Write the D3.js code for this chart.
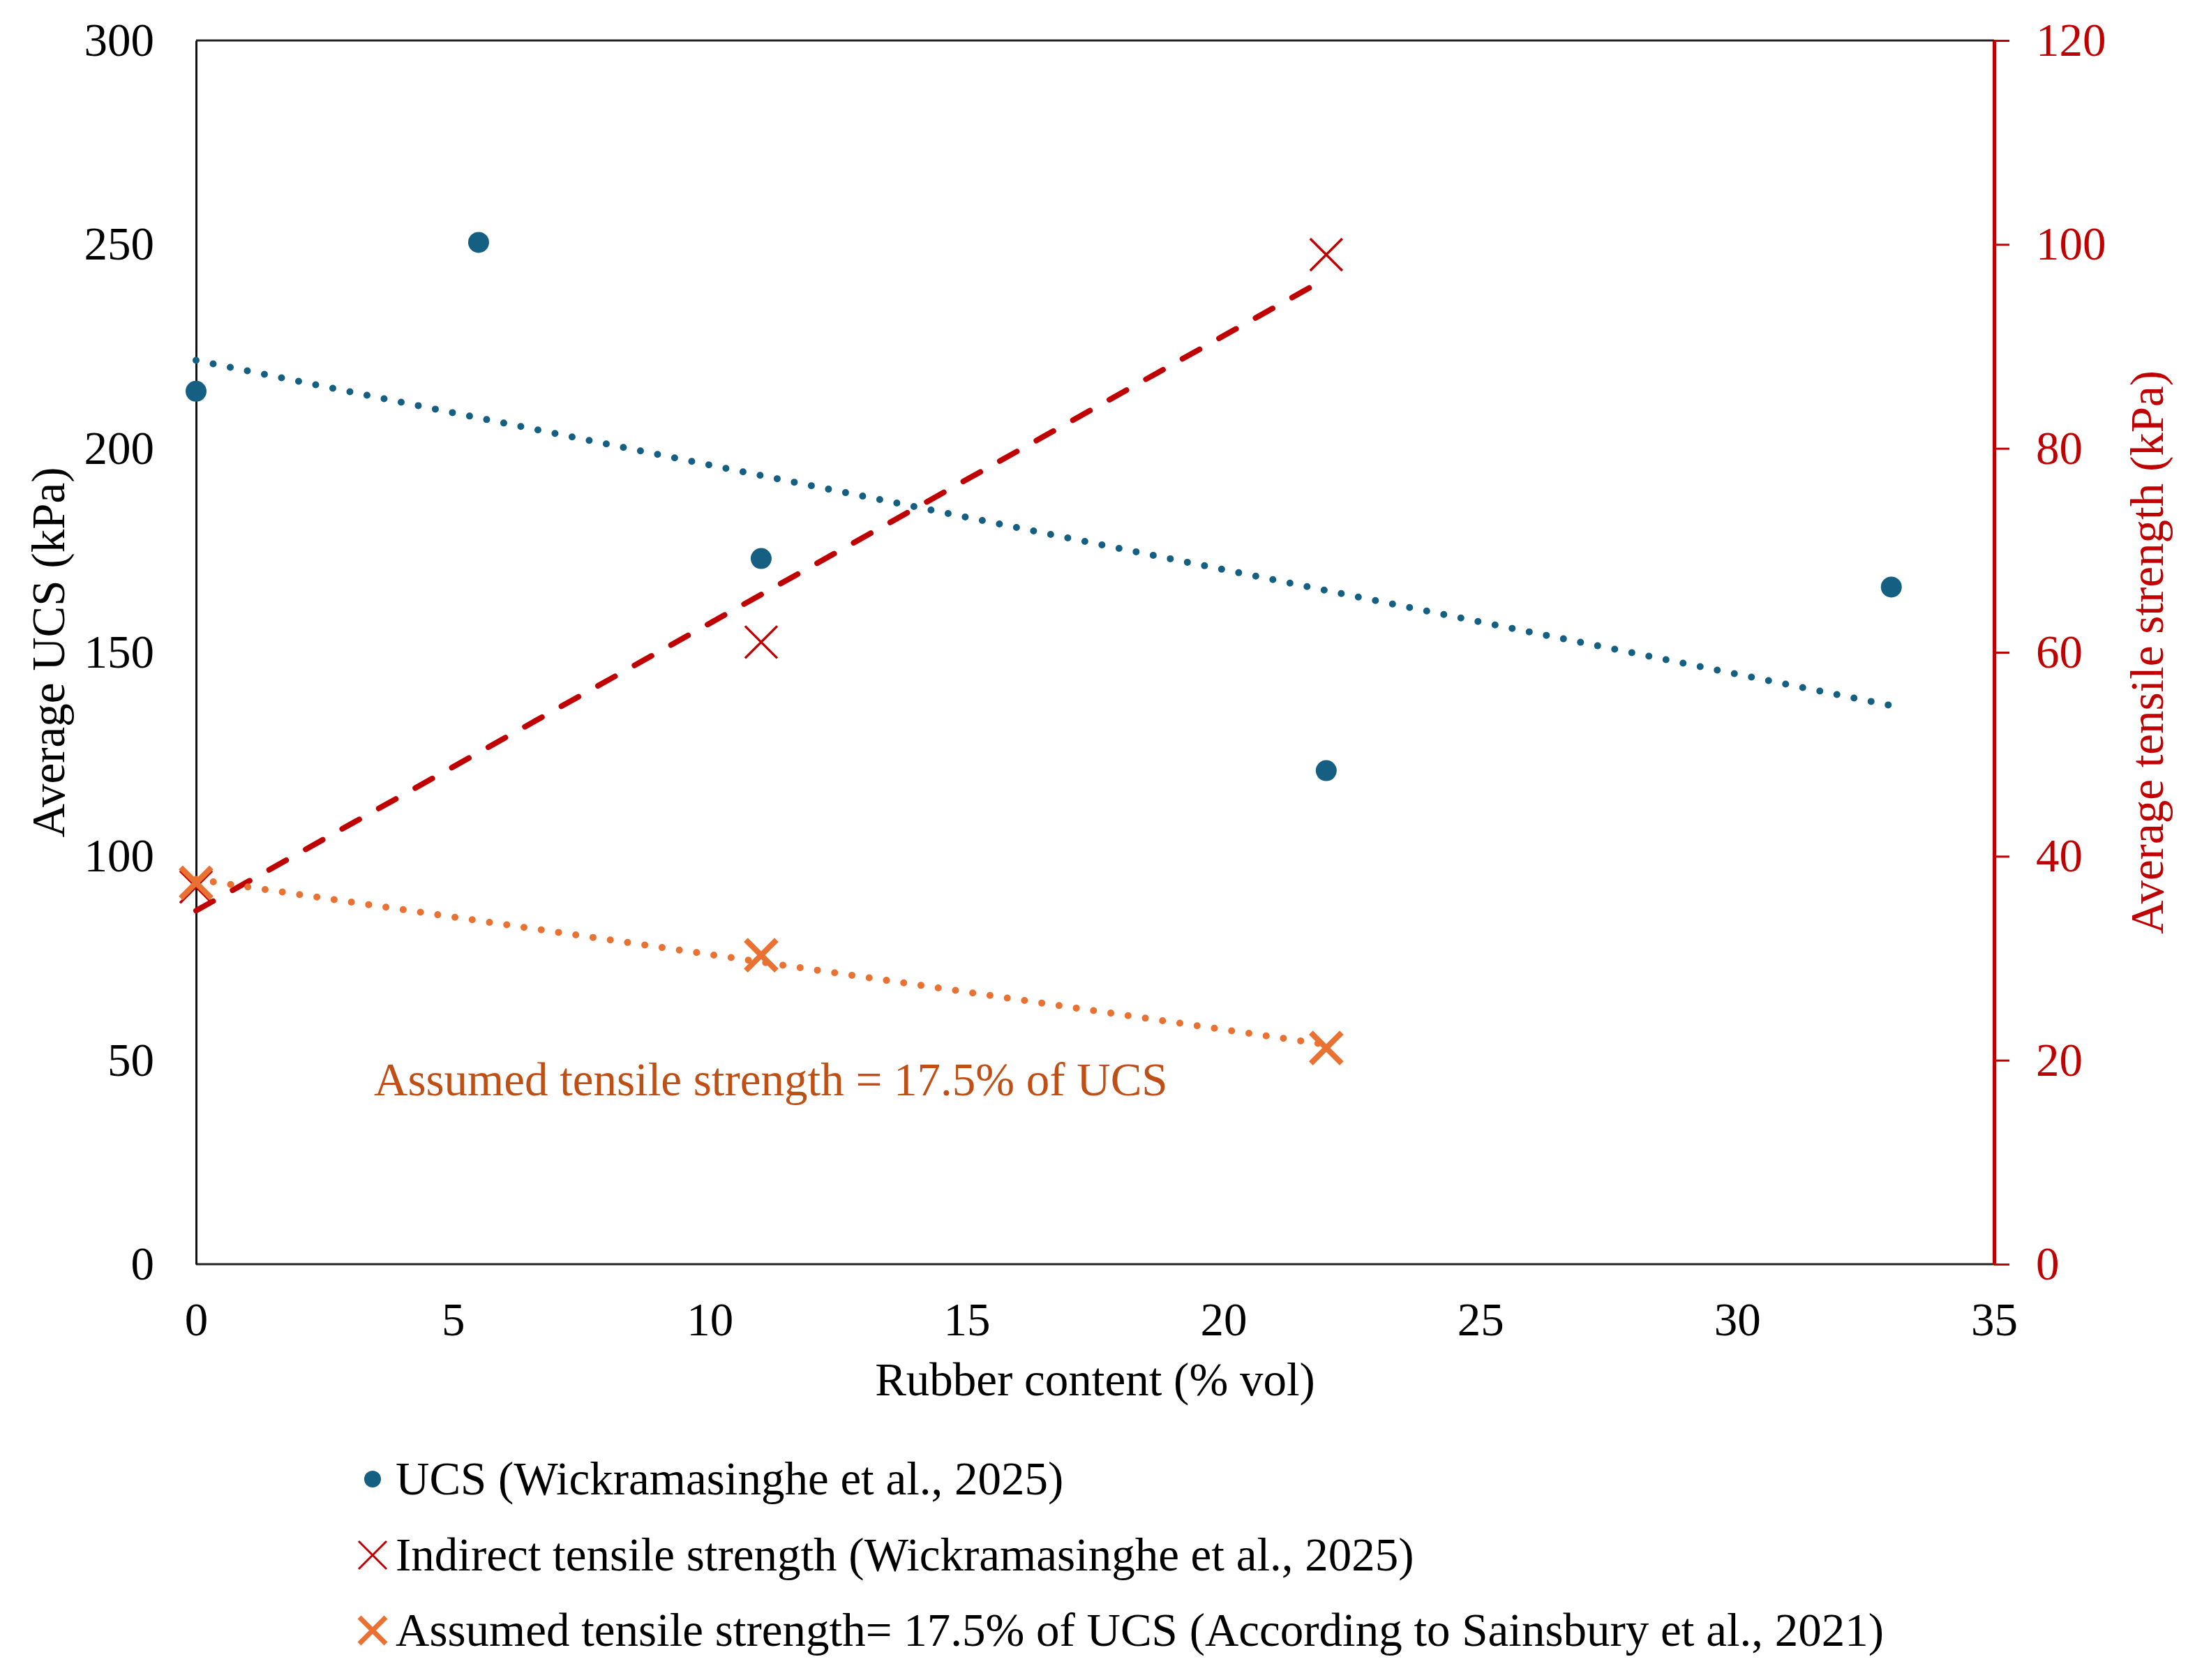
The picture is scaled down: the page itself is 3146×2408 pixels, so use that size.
<!DOCTYPE html>
<html>
<head>
<meta charset="utf-8">
<script src="https://cdn.jsdelivr.net/npm/d3@7"></script>
<style>
  body { margin: 0; background: #fff; }
  text { font-family: "Liberation Serif", "Times New Roman", serif; }
</style>
</head>
<body>
<svg id="chart" width="3146" height="2408"></svg>
<script>
// rubber content (% vol)
const ucsX = [0, 5.5, 11, 22, 33]
const ucsY = [214, 250.5, 173, 121, 166]          // kPa, left axis
const itsX = [0, 11, 22]
const itsY = [37, 61, 99]                          // kPa, right axis
const assumedX = [0, 11, 22]
const assumedY = [37.4, 30.3, 21.2]                // kPa, right axis
const xTicks = [0, 5, 10, 15, 20, 25, 30, 35]
const leftTicks = [0, 50, 100, 150, 200, 250, 300]
const rightTicks = [0, 20, 40, 60, 80, 100, 120]
const legendLabels = [
  "UCS (Wickramasinghe et al., 2025)",
  "Indirect tensile strength (Wickramasinghe et al., 2025)",
  "Assumed tensile strength= 17.5% of UCS (According to Sainsbury et al., 2021)"
]

const blue = "#156082", red = "#c00000", orange = "#e97132", darkOrange = "#c04f15"
const fontSize = 67

const svg = d3.select("#chart")
const pLeft = 281, pRight = 2858, pTop = 58, pBottom = 1812

const x = d3.scaleLinear().domain([0, 35]).range([pLeft, pRight])
const yL = d3.scaleLinear().domain([0, 300]).range([pBottom, pTop])
const yR = d3.scaleLinear().domain([0, 120]).range([pBottom, pTop])

// least squares line, like the spreadsheet trendline
function fit(xs, ys) {
  const mx = d3.mean(xs), my = d3.mean(ys)
  let sxy = 0, sxx = 0
  xs.forEach((v, i) => { sxy += (v - mx) * (ys[i] - my); sxx += (v - mx) * (v - mx) })
  const b = sxy / sxx
  const a = my - b * mx
  const x0 = d3.min(xs), x1 = d3.max(xs)
  return [[x0, a + b * x0], [x1, a + b * x1]]
}

// frame
svg.append("line").attr("x1", pLeft).attr("x2", pRight).attr("y1", pTop).attr("y2", pTop)
  .attr("stroke", "#222").attr("stroke-width", 3)
svg.append("line").attr("x1", pLeft).attr("x2", pRight).attr("y1", pBottom).attr("y2", pBottom)
  .attr("stroke", "#222").attr("stroke-width", 3)

// left axis
const gL = svg.append("g").attr("transform", `translate(${pLeft},0)`)
  .call(d3.axisLeft(yL).tickValues(leftTicks).tickSize(0).tickSizeOuter(0).tickPadding(60))
gL.select(".domain").attr("stroke", "#111").attr("stroke-width", 3)
gL.selectAll("text").attr("font-size", fontSize).attr("fill", "#000")
  .style("font-family", "Liberation Serif")

// right axis
const gR = svg.append("g").attr("transform", `translate(${pRight},0)`)
  .call(d3.axisRight(yR).tickValues(rightTicks).tickSize(22).tickSizeOuter(0).tickPadding(38))
gR.select(".domain").attr("stroke", red).attr("stroke-width", 5)
gR.selectAll(".tick line").attr("stroke", red).attr("stroke-width", 3)
gR.selectAll("text").attr("font-size", fontSize).attr("fill", red)
  .style("font-family", "Liberation Serif")

// bottom axis
const gB = svg.append("g").attr("transform", `translate(0,${pBottom})`)
  .call(d3.axisBottom(x).tickValues(xTicks).tickSize(0).tickSizeOuter(0).tickPadding(54))
gB.select(".domain").remove()
gB.selectAll("text").attr("font-size", fontSize).attr("fill", "#000")
  .style("font-family", "Liberation Serif")

// axis titles
svg.append("text").attr("transform", `translate(92,${(pTop + pBottom) / 2}) rotate(-90)`)
  .attr("text-anchor", "middle").attr("font-size", fontSize).text("Average UCS (kPa)")
svg.append("text").attr("transform", `translate(3100,${(pTop + pBottom) / 2}) rotate(-90)`)
  .attr("text-anchor", "middle").attr("font-size", fontSize).attr("fill", red)
  .text("Average tensile strength (kPa)")
svg.append("text").attr("x", (pLeft + pRight) / 2).attr("y", 2000)
  .attr("text-anchor", "middle").attr("font-size", fontSize).text("Rubber content (% vol)")

const line = d3.line()

// trendlines
svg.append("path")
  .attr("d", line(fit(ucsX, ucsY).map(p => [x(p[0]), yL(p[1])])))
  .attr("fill", "none").attr("stroke", blue).attr("stroke-width", 10)
  .attr("stroke-linecap", "round").attr("stroke-dasharray", "0 25")

svg.append("path")
  .attr("d", line(fit(itsX, itsY).map(p => [x(p[0]), yR(p[1])])))
  .attr("fill", "none").attr("stroke", red).attr("stroke-width", 8)
  .attr("stroke-linecap", "round").attr("stroke-dasharray", "28 32")

svg.append("path")
  .attr("d", line(fit(assumedX, assumedY).map(p => [x(p[0]), yR(p[1])])))
  .attr("fill", "none").attr("stroke", orange).attr("stroke-width", 10)
  .attr("stroke-linecap", "round").attr("stroke-dasharray", "0 25")

// markers
function cross(g, cx, cy, s, color, w) {
  g.append("path")
    .attr("d", `M${cx - s},${cy - s}L${cx + s},${cy + s}M${cx - s},${cy + s}L${cx + s},${cy - s}`)
    .attr("stroke", color).attr("stroke-width", w).attr("fill", "none")
}

svg.append("g").selectAll("circle")
  .data(ucsX.map((v, i) => [v, ucsY[i]]))
  .enter().append("circle")
  .attr("cx", d => x(d[0])).attr("cy", d => yL(d[1])).attr("r", 15).attr("fill", blue)

const gIts = svg.append("g")
itsX.forEach((v, i) => cross(gIts, x(v), yR(itsY[i]), 23, red, 3.5))

const gAs = svg.append("g")
assumedX.forEach((v, i) => cross(gAs, x(v), yR(assumedY[i]), 22, orange, 8))

// annotation
svg.append("text").attr("x", 536).attr("y", 1570).attr("font-size", fontSize)
  .attr("fill", darkOrange).text("Assumed tensile strength = 17.5% of UCS")

// legend
const legY = [2120, 2229, 2337]
const lg = svg.append("g")
lg.append("circle").attr("cx", 534).attr("cy", legY[0]).attr("r", 12).attr("fill", blue)
cross(lg, 534, legY[1], 20, red, 3)
cross(lg, 534, legY[2], 19, orange, 7)
lg.selectAll("text").data(legendLabels).enter().append("text")
  .attr("x", 567).attr("y", (d, i) => legY[i]).attr("dy", "0.33em")
  .attr("font-size", fontSize).text(d => d)
</script>
</body>
</html>
